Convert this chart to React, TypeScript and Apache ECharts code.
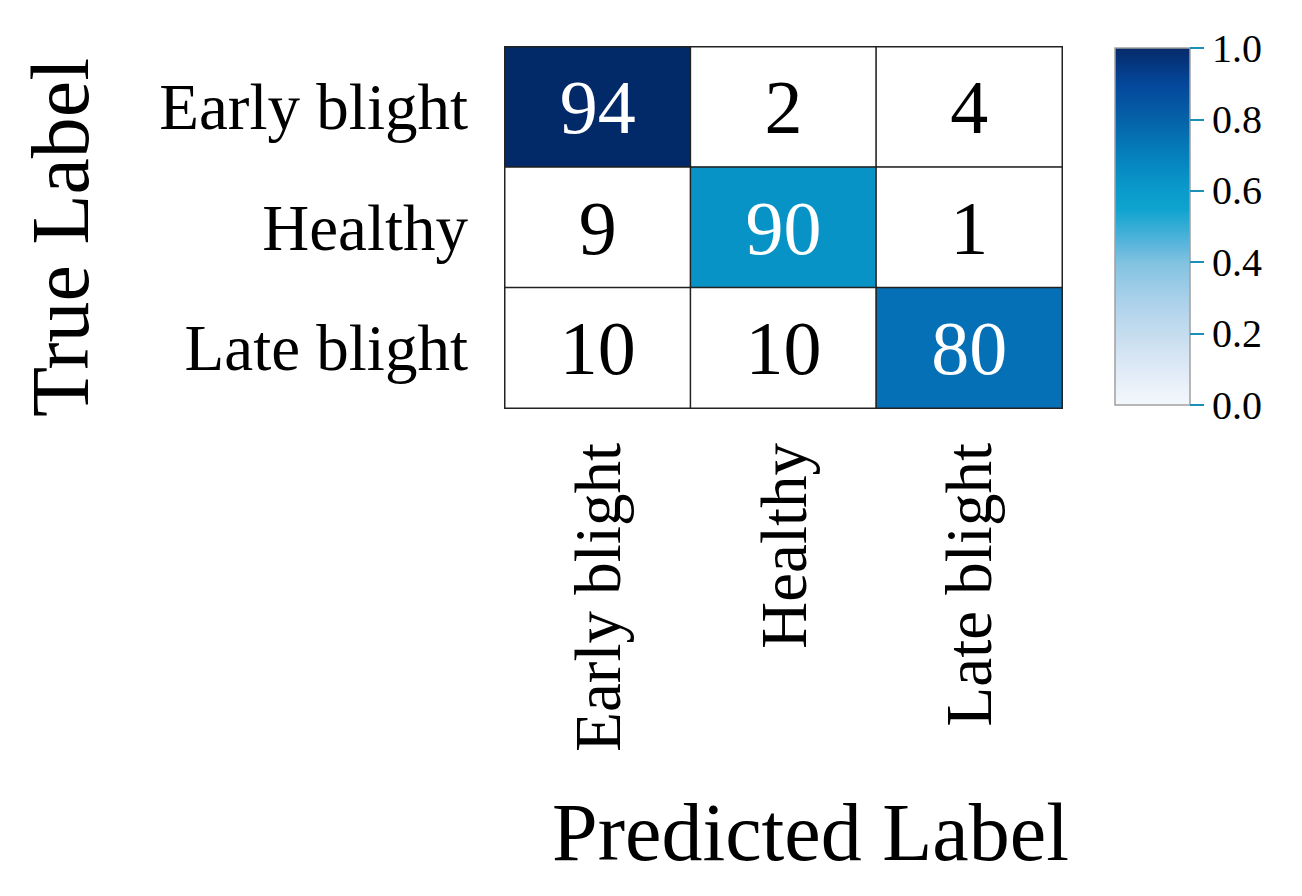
import React, { useEffect, useRef } from "react";
import * as echarts from "echarts";

const predictedLabels = ["Early blight", "Healthy", "Late blight"];
const trueLabels = ["Early blight", "Healthy", "Late blight"];
// rows = true label, columns = predicted label (percent)
const matrixRows = [
  [94, 2, 4],
  [9, 90, 1],
  [10, 10, 80],
];
const colorbarTicks = [0, 0.2, 0.4, 0.6, 0.8, 1.0];

const SERIF = '"Liberation Serif", "Times New Roman", serif';

export default function App() {
  const ref = useRef<HTMLDivElement>(null);
  useEffect(() => {
    if (!ref.current) return;
    const chart = echarts.init(ref.current, null, { renderer: "svg" });
    const cells: number[][] = [];
    matrixRows.forEach((row, r) =>
      row.forEach((v, c) => cells.push([c, r, v]))
    );
    const gradient = new echarts.graphic.LinearGradient(0, 0, 0, 1, [
      { offset: 0, color: "#062a6a" },
      { offset: 0.1, color: "#04479a" },
      { offset: 0.2, color: "#0562a8" },
      { offset: 0.3, color: "#0580bd" },
      { offset: 0.4, color: "#0a9bcb" },
      { offset: 0.45, color: "#0ea3cf" },
      { offset: 0.55, color: "#5ab5dc" },
      { offset: 0.6, color: "#80c2e0" },
      { offset: 0.7, color: "#a8d0ea" },
      { offset: 0.8, color: "#c5dcef" },
      { offset: 0.9, color: "#dfeaf6" },
      { offset: 1, color: "#f4f8fc" },
    ]);
    chart.setOption({
      animation: false,
      backgroundColor: "#ffffff",
      textStyle: { fontFamily: SERIF },
      grid: [
        { left: 505, top: 47, width: 557, height: 361 },
        {
          left: 1115,
          top: 48,
          width: 75,
          height: 357,
          show: true,
          backgroundColor: gradient,
          borderColor: "#a0a0a0",
          borderWidth: 1.5,
        },
      ],
      xAxis: [
        {
          type: "category",
          gridIndex: 0,
          data: predictedLabels,
          name: "Predicted Label",
          nameLocation: "middle",
          nameGap: 383,
          nameTextStyle: {
            fontFamily: SERIF,
            fontSize: 82,
            color: "#000",
            padding: [0, 0, 0, 54],
          },
          axisLine: { show: false },
          axisTick: { show: false },
          splitLine: { show: false },
          axisLabel: {
            rotate: 90,
            margin: 35,
            fontFamily: SERIF,
            fontSize: 65,
            color: "#000",
          },
        },
        { type: "value", gridIndex: 1, show: false, min: 0, max: 1 },
      ],
      yAxis: [
        {
          type: "category",
          gridIndex: 0,
          data: trueLabels,
          inverse: true,
          name: "True Label",
          nameLocation: "middle",
          nameRotate: 90,
          nameGap: 404,
          nameTextStyle: {
            fontFamily: SERIF,
            fontSize: 82,
            color: "#000",
            padding: [0, 20, 0, 0],
          },
          axisLine: { show: false },
          axisTick: { show: false },
          splitLine: { show: false },
          axisLabel: {
            margin: 37,
            fontFamily: SERIF,
            fontSize: 65,
            color: "#000",
          },
        },
        {
          type: "value",
          gridIndex: 1,
          position: "right",
          min: 0,
          max: 1,
          interval: 0.2,
          axisLine: { show: false, onZero: false },
          splitLine: { show: false },
          axisTick: {
            show: true,
            inside: false,
            length: 14,
            lineStyle: { color: "#1a8fb8", width: 2 },
          },
          axisLabel: {
            margin: 22,
            fontFamily: SERIF,
            fontSize: 40,
            color: "#000",
            formatter: (v: number) =>
              colorbarTicks.some((t) => Math.abs(t - v) < 1e-6) ? v.toFixed(1) : "",
          },
        },
      ],
      visualMap: {
        type: "piecewise",
        show: false,
        seriesIndex: 0,
        dimension: 2,
        pieces: [
          { value: 94, color: "#022a68" },
          { value: 90, color: "#0893c7" },
          { value: 80, color: "#0570b6" },
          { lt: 50, color: "#ffffff" },
        ],
      },
      series: [
        {
          type: "heatmap",
          xAxisIndex: 0,
          yAxisIndex: 0,
          data: cells,
          itemStyle: { borderColor: "#222", borderWidth: 1.5 },
          label: {
            show: true,
            formatter: (p: any) =>
              p.value[2] > 50 ? `{w|${p.value[2]}}` : `{k|${p.value[2]}}`,
            rich: {
              w: { color: "#ffffff", fontFamily: SERIF, fontSize: 76 },
              k: { color: "#000000", fontFamily: SERIF, fontSize: 76 },
            },
          },
          emphasis: { disabled: true },
        },
      ],
    });
    return () => chart.dispose();
  }, []);
  return (
    <div
      ref={ref}
      style={{ position: "fixed", left: 0, top: 0, width: 1302, height: 896, background: "#fff" }}
    />
  );
}
